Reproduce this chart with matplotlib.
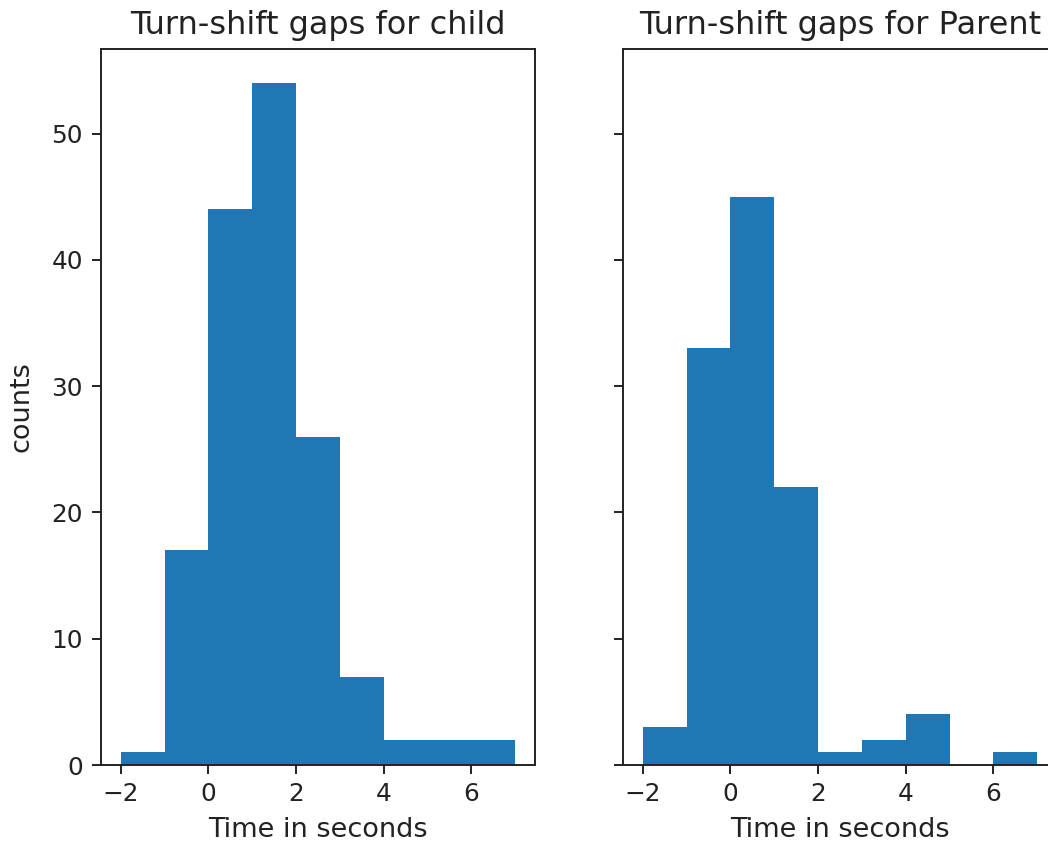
import matplotlib
matplotlib.use("Agg")
import matplotlib.pyplot as plt
import numpy as np

bin_edges = [-2, -1, 0, 1, 2, 3, 4, 5, 6, 7]
child_counts = [1, 17, 44, 54, 26, 7, 2, 2, 2]
parent_counts = [3, 33, 45, 22, 1, 2, 4, 0, 1]
titles = ["Turn-shift gaps for child", "Turn-shift gaps for Parent"]
xlabel = "Time in seconds"
ylabel = "counts"

plt.rcParams.update({
    "axes.linewidth": 1.4,
    "xtick.major.size": 6.5,
    "ytick.major.size": 6.5,
    "xtick.major.width": 1.4,
    "ytick.major.width": 1.4,
    "xtick.major.pad": 6,
    "ytick.major.pad": 6.5,
    "xtick.labelsize": 17.8,
    "ytick.labelsize": 17.8,
    "axes.titlesize": 23,
    "axes.labelsize": 19.5,
    "axes.edgecolor": "#222222",
    "text.color": "#222222",
    "xtick.color": "#222222",
    "ytick.color": "#222222",
    "axes.labelcolor": "#222222",
})

W, H = 1048, 846
fig = plt.figure(figsize=(W / 100, H / 100), dpi=100)
ax1 = fig.add_axes([101 / W, (H - 765) / H, 434 / W, (765 - 49) / H])
ax2 = fig.add_axes([623 / W, (H - 765) / H, 434 / W, (765 - 49) / H], sharey=ax1)

centers = [(bin_edges[i] + bin_edges[i + 1]) / 2 for i in range(len(bin_edges) - 1)]
for ax, counts, title in zip([ax1, ax2], [child_counts, parent_counts], titles):
    ax.hist(centers, bins=bin_edges, weights=counts, color="#1f77b4")
    ax.set_title(title, pad=11)
    ax.set_xlabel(xlabel, labelpad=8)
    ax.set_xticks([-2, 0, 2, 4, 6])

ax1.set_ylabel(ylabel, labelpad=12)
ax1.set_yticks([0, 10, 20, 30, 40, 50])
plt.setp(ax2.get_yticklabels(), visible=False)

fig.savefig("out.png", dpi=100)
